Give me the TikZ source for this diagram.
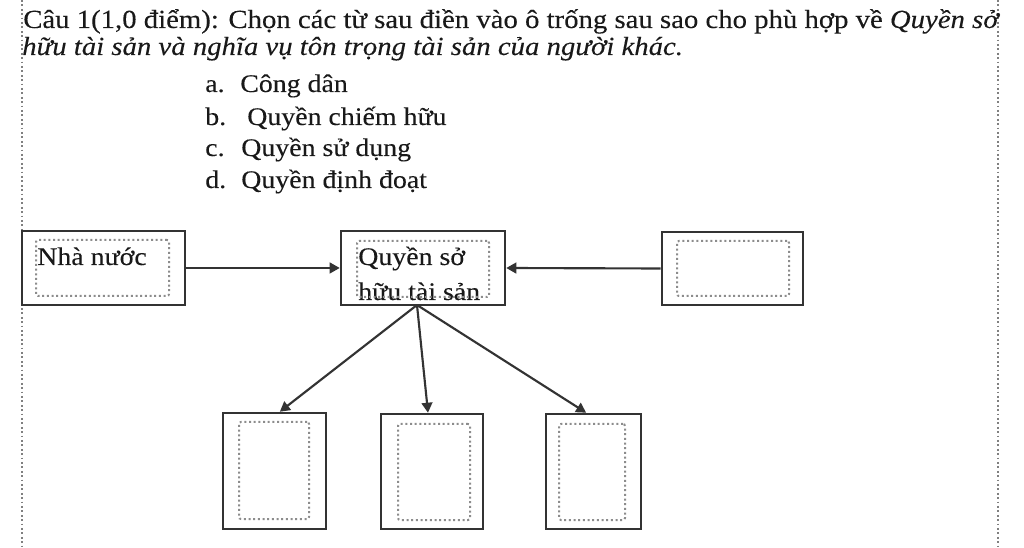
\documentclass[tikz,border=0pt]{standalone}
\usepackage{fontspec}
\setmainfont[FakeStretch=1.1,FakeBold=0.15]{Liberation Serif}
\usetikzlibrary{arrows.meta}
\begin{document}
\begin{tikzpicture}[x=0.75pt,y=-0.75pt,
 outerbox/.style={draw=black!80, line width=1.9pt, inner sep=0pt},
 innerbox/.style={draw=black!45, dotted, line width=1.5pt, rounded corners=1.5pt, inner sep=0pt},
 txt/.style={anchor=base west, inner sep=0pt, text=black!90, font=\fontsize{19}{23}\selectfont},
 ttl/.style={txt, font=\fontsize{19.6}{23}\selectfont},
 arr/.style={draw=black!80, line width=1.6pt, -{Triangle[length=7.5pt,width=8pt]}},
 border/.style={draw=black!50, dotted, line width=1.3pt}]
\useasboundingbox[fill=white] (0,0) rectangle (1024,548);
% page borders
\coordinate (bl1) at (22,0); \coordinate (bl2) at (22,548);
\coordinate (br1) at (998,0); \coordinate (br2) at (998,548);
\draw[border] (bl1) -- (bl2);
\draw[border] (br1) -- (br2);
% title
\node[ttl] (t1) at (23,28) {Câu 1(1,0 điểm): Chọn các từ sau điền vào ô trống sau sao cho phù hợp về \textit{Quyền sở}};
\node[ttl] (t2) at (22,55) {\textit{hữu tài sản và nghĩa vụ tôn trọng tài sản của người khác.}};
% list
\node[txt] (la) at (205,92) {a.};  \node[txt] (lat) at (240,92) {Công dân};
\node[txt] (lb) at (205,125) {b.}; \node[txt] (lbt) at (247,125) {Quyền chiếm hữu};
\node[txt] (lc) at (205,156) {c.}; \node[txt] (lct) at (241,156) {Quyền sử dụng};
\node[txt] (ld) at (205,188) {d.}; \node[txt] (ldt) at (241,188) {Quyền định đoạt};
% top row
\node[outerbox, minimum width=122.25pt, minimum height=55.5pt] (n) at (103.5,268) {};
\node[innerbox, minimum width=99.75pt, minimum height=42pt] (ni) at (102.5,268) {};
\node[txt] (nt) at (37,265) {Nhà nước};
\node[outerbox, minimum width=123pt, minimum height=55.5pt] (q) at (423,268) {};
\node[txt] (qt1) at (358,265) {Quyền sở};
\node[txt] (qt2) at (358,300) {hữu tài sản};
\node[innerbox, minimum width=99pt, minimum height=42pt] (qi) at (423,269) {};
\node[outerbox, minimum width=105.75pt, minimum height=54.75pt] (r) at (732.5,268.5) {};
\node[innerbox, minimum width=84pt, minimum height=41.25pt] (ri) at (733,268.5) {};
% bottom row
\node[outerbox, minimum width=77.25pt, minimum height=87pt] (b1) at (274.5,471) {};
\node[innerbox, minimum width=52.5pt, minimum height=72.75pt] (b1i) at (274,470.5) {};
\node[outerbox, minimum width=76.5pt, minimum height=86.25pt] (b2) at (432,471.5) {};
\node[innerbox, minimum width=54pt, minimum height=72pt] (b2i) at (434,472) {};
\node[outerbox, minimum width=71.25pt, minimum height=86.25pt] (b3) at (593.5,471.5) {};
\node[innerbox, minimum width=49.5pt, minimum height=72pt] (b3i) at (592,472) {};
% connectors
\draw[arr] (n.east) -- (q.west);
\draw[arr] (r.west) -- (q.east);
\coordinate (qs) at (417,305);
\draw[arr] (qs) -- ([xshift=4pt]b1.north);
\draw[arr] (qs) -- ([xshift=-3pt]b2.north);
\draw[arr] (qs) -- ([xshift=-5.5pt]b3.north);
\end{tikzpicture}
\end{document}
